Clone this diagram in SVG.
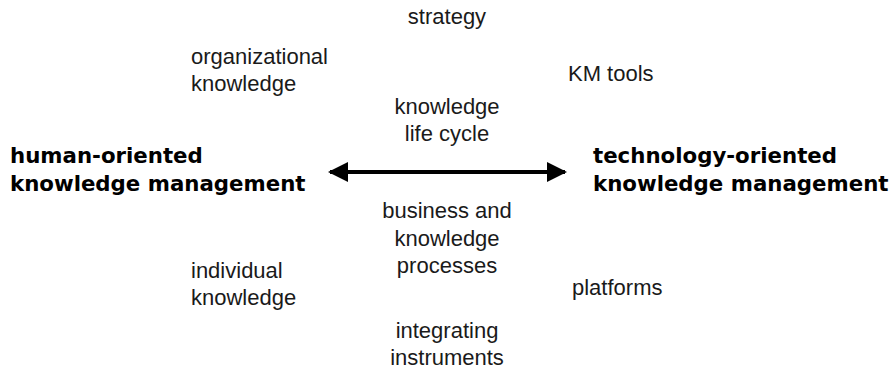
<svg xmlns="http://www.w3.org/2000/svg" width="896" height="370" viewBox="0 0 896 370">
<style>
.t{font-family:"Liberation Sans",Arial,sans-serif;font-size:22px;fill:#1a1a1a}
.c{text-anchor:middle}
.b{font-family:"DejaVu Sans",sans-serif;font-weight:bold;font-size:21.3px;fill:#000}
</style>
<defs>
<marker id="ah" viewBox="0 0 10 10" refX="9" refY="5" markerWidth="5" markerHeight="5" orient="auto-start-reverse" markerUnits="strokeWidth">
<path d="M0,0 L10,5 L0,10 z" fill="#000"/>
</marker>
</defs>
<rect width="896" height="370" fill="#fff"/>
<g id="human"><text class="b" x="10" y="163">human-oriented</text><text class="b" x="10" y="191">knowledge management</text></g>
<g id="technology"><text class="b" x="593" y="163">technology-oriented</text><text class="b" x="593" y="191">knowledge management</text></g>
<g id="strategy"><text class="t c" x="447" y="24">strategy</text></g>
<g id="orgknowledge"><text class="t" x="191" y="64">organizational</text><text class="t" x="191" y="91">knowledge</text></g>
<g id="kmtools"><text class="t" x="568" y="81">KM tools</text></g>
<g id="lifecycle"><text class="t c" x="447" y="114">knowledge</text><text class="t c" x="447" y="141">life cycle</text></g>
<g id="processes"><text class="t c" x="447" y="218">business and</text><text class="t c" x="447" y="246">knowledge</text><text class="t c" x="447" y="273">processes</text></g>
<g id="indknowledge"><text class="t" x="191" y="278">individual</text><text class="t" x="191" y="305">knowledge</text></g>
<g id="platforms"><text class="t" x="572" y="295">platforms</text></g>
<g id="instruments"><text class="t c" x="447" y="338">integrating</text><text class="t c" x="447" y="365">instruments</text></g>
<g id="connectors"><line x1="330" y1="172" x2="565" y2="172" stroke="#000" stroke-width="4" marker-start="url(#ah)" marker-end="url(#ah)"/></g>
</svg>
